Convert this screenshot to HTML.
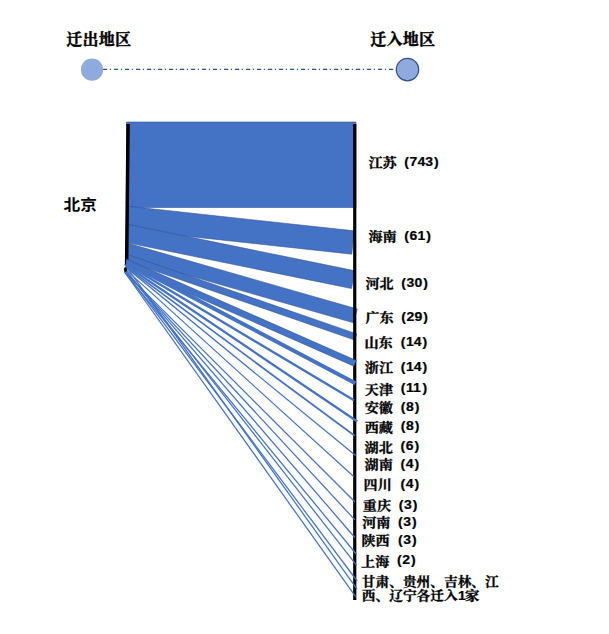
<!DOCTYPE html>
<html lang="zh"><head><meta charset="utf-8"><title>迁出地区 迁入地区</title>
<style>
html,body{margin:0;padding:0;background:#fff;}
body{width:609px;height:634px;overflow:hidden;font-family:"Liberation Sans",sans-serif;}
svg{display:block}
svg text{font-family:"Liberation Sans",sans-serif;font-weight:bold;font-size:12.4px;fill:#000;stroke:#000;stroke-width:0.2px}
svg text.cj{font-family:"Liberation Serif","Noto Serif CJK SC",serif;font-weight:bold;font-size:13.01px;stroke-width:0.3px}
svg text.cj2{font-family:"Liberation Serif","Noto Serif CJK SC",serif;font-weight:bold;font-size:12.74px;stroke-width:0.3px}
svg text.lg{font-family:"Liberation Serif","Noto Serif CJK SC",serif;font-weight:bold;font-size:16px;stroke-width:0.4px;letter-spacing:0.25px}
svg text.cn{font-family:"Liberation Sans","Noto Sans CJK SC",sans-serif;font-weight:bold;font-size:15.23px;stroke:none}
</style></head><body>
<svg width="609" height="634" viewBox="0 0 609 634" role="img" aria-label="北京 迁出地区 迁入地区 迁移流向图">
<desc>迁出地区：北京。迁入地区：江苏 (743)、海南 (61)、河北 (30)、广东 (29)、山东 (14)、浙江 (14)、天津 (11)、安徽 (8)、西藏 (8)、湖北 (6)、湖南 (4)、四川 (4)、重庆 (3)、河南 (3)、陕西 (3)、上海 (2)、甘肃、贵州、吉林、江西、辽宁各迁入1家</desc>
<rect width="609" height="634" fill="#fff"/>
<!-- legend -->
<line x1="102.9" y1="69.4" x2="393.2" y2="69.4" stroke="#2F528F" stroke-width="1.15" stroke-dasharray="4.3 2.6 1.2 2.9"/>
<circle cx="92" cy="69.7" r="11.1" fill="#8FAADC"/>
<circle cx="407.5" cy="69.6" r="11.2" fill="#8FAADC" stroke="#2F528F" stroke-width="1.2"/>
<!-- flows -->
<g fill="#4472C4" stroke="#2F528F" stroke-width="0.55" stroke-linejoin="miter">
<polygon points="126.5,122 356,122 356,207.5 126.5,207.5"/>
<polygon points="126.5,206.08 354.30,230.85 351.76,254.17 126.5,229.68"/>
<polygon points="126.5,224.09 355.10,270.80 351.47,288.56 126.5,242.59"/>
<polygon points="126.5,242.83 357.30,309.00 353.35,322.77 126.5,257.73"/>
<polygon points="126.5,254.21 356.80,333.90 354.67,340.06 126.5,261.11"/>
</g>
<!-- bars -->
<line x1="128.1" y1="124" x2="126.6" y2="265.3" stroke="#000" stroke-width="3.5"/>
<line x1="354.75" y1="124" x2="354.75" y2="600.0" stroke="#000" stroke-width="3.2"/>
<g fill="#4472C4" stroke="#2F528F" stroke-width="0.55" stroke-linejoin="miter">
<polygon points="126.5,259.12 356.31,360.50 353.79,366.20 126.5,265.92"/>
<polygon points="126.5,260.24 356.28,381.39 354.42,384.91 126.5,264.74" stroke="none"/>
<polygon points="126.5,263.05 354.62,399.27 353.38,401.33 126.5,265.85" stroke="none"/>
<polygon points="126.5,264.40 357.95,420.54 356.65,422.46 126.5,267.20" stroke="none"/>
<polygon points="126.5,266.15 355.20,435.02 354.20,436.38 126.5,268.25" stroke="none"/>
<polygon points="126.5,267.05 355.99,454.92 355.21,455.88 126.5,268.65" stroke="none"/>
<polygon points="126.5,269.47 354.10,476.06 353.30,476.94 126.5,271.07" stroke="none"/>
</g>
<g stroke="#4472C4" stroke-width="1.25">
<line x1="124.7" y1="271.86" x2="354.8" y2="501.8"/>
<line x1="124.7" y1="271.10" x2="354.8" y2="519.8"/>
<line x1="124.7" y1="270.37" x2="354.8" y2="537.5"/>
<line x1="124.7" y1="272.32" x2="356.6" y2="554.5"/>
<line x1="124.7" y1="268.38" x2="356.6" y2="565.3"/>
<line x1="124.7" y1="271.16" x2="357.2" y2="581.0"/>
<line x1="124.7" y1="264.42" x2="357.2" y2="589.3"/>
<line x1="124.7" y1="272.26" x2="355.6" y2="596.6"/>
</g>
<ellipse cx="125.5" cy="269.5" rx="1.6" ry="2.6" fill="#111"/>
<!-- text -->
<text class="cj" transform="translate(368.46,167.48) scale(1.0846,1)">江苏</text>
<text class="cj" transform="translate(368.45,240.64) scale(1.0846,1)">海南</text>
<text class="cj" transform="translate(365.43,287.96) scale(1.0846,1)">河北</text>
<text class="cj" transform="translate(365.46,322.37) scale(1.0846,1)">广东</text>
<text class="cj" transform="translate(364.42,347.12) scale(1.0846,1)">山东</text>
<text class="cj" transform="translate(364.86,371.95) scale(1.0846,1)">浙江</text>
<text class="cj" transform="translate(364.79,393.51) scale(1.0846,1)">天津</text>
<text class="cj" transform="translate(364.75,412.44) scale(1.0846,1)">安徽</text>
<text class="cj" transform="translate(364.75,431.74) scale(1.0846,1)">西藏</text>
<text class="cj" transform="translate(364.60,451.56) scale(1.0846,1)">湖北</text>
<text class="cj" transform="translate(364.60,468.84) scale(1.0846,1)">湖南</text>
<text class="cj" transform="translate(363.60,489.17) scale(1.0846,1)">四川</text>
<text class="cj" transform="translate(362.85,509.73) scale(1.0846,1)">重庆</text>
<text class="cj" transform="translate(362.13,527.34) scale(1.0846,1)">河南</text>
<text class="cj" transform="translate(361.48,545.41) scale(1.0846,1)">陕西</text>
<text class="cj" transform="translate(361.08,565.53) scale(1.0846,1)">上海</text>
<text class="cj2" transform="translate(361.82,585.78) scale(1.0754,1)">甘肃、贵州、吉林、江</text>
<text class="cj2" transform="translate(361.86,600.42) scale(1.0754,1)">西、辽宁各迁入</text>
<text class="cj2" transform="translate(464.76,600.38) scale(1.1617,1)">家</text>
<text class="lg" x="66.37" y="45.06">迁出地区</text>
<text class="lg" x="370.17" y="45.13">迁入地区</text>
<text class="cn" transform="translate(63.47,209.53) scale(1.0959,1)">北京</text>
<text transform="translate(404.30,166.20) scale(1.13,1)">(</text>
<text transform="translate(409.60,166.20) scale(1.13,1)">743</text>
<text transform="translate(433.92,166.20) scale(1.13,1)">)</text>
<text transform="translate(404.30,239.50) scale(1.13,1)">(</text>
<text transform="translate(409.60,239.50) scale(1.13,1)">61</text>
<text transform="translate(426.13,239.50) scale(1.13,1)">)</text>
<text transform="translate(401.30,287.00) scale(1.13,1)">(</text>
<text transform="translate(406.60,287.00) scale(1.13,1)">30</text>
<text transform="translate(423.13,287.00) scale(1.13,1)">)</text>
<text transform="translate(401.30,321.10) scale(1.13,1)">(</text>
<text transform="translate(406.60,321.10) scale(1.13,1)">29</text>
<text transform="translate(423.13,321.10) scale(1.13,1)">)</text>
<text transform="translate(400.70,345.80) scale(1.13,1)">(</text>
<text transform="translate(406.00,345.80) scale(1.13,1)">14</text>
<text transform="translate(422.53,345.80) scale(1.13,1)">)</text>
<text transform="translate(400.70,370.60) scale(1.13,1)">(</text>
<text transform="translate(406.00,370.60) scale(1.13,1)">14</text>
<text transform="translate(422.53,370.60) scale(1.13,1)">)</text>
<text transform="translate(400.70,392.20) scale(1.13,1)">(</text>
<text transform="translate(406.00,392.20) scale(1.13,1)">11</text>
<text transform="translate(422.53,392.20) scale(1.13,1)">)</text>
<text transform="translate(400.70,411.10) scale(1.13,1)">(</text>
<text transform="translate(406.00,411.10) scale(1.13,1)">8</text>
<text transform="translate(414.74,411.10) scale(1.13,1)">)</text>
<text transform="translate(400.70,430.40) scale(1.13,1)">(</text>
<text transform="translate(406.00,430.40) scale(1.13,1)">8</text>
<text transform="translate(414.74,430.40) scale(1.13,1)">)</text>
<text transform="translate(400.40,450.40) scale(1.13,1)">(</text>
<text transform="translate(405.70,450.40) scale(1.13,1)">6</text>
<text transform="translate(414.44,450.40) scale(1.13,1)">)</text>
<text transform="translate(400.40,467.70) scale(1.13,1)">(</text>
<text transform="translate(405.70,467.70) scale(1.13,1)">4</text>
<text transform="translate(414.44,467.70) scale(1.13,1)">)</text>
<text transform="translate(400.40,488.10) scale(1.13,1)">(</text>
<text transform="translate(405.70,488.10) scale(1.13,1)">4</text>
<text transform="translate(414.44,488.10) scale(1.13,1)">)</text>
<text transform="translate(398.80,508.60) scale(1.13,1)">(</text>
<text transform="translate(404.10,508.60) scale(1.13,1)">3</text>
<text transform="translate(412.84,508.60) scale(1.13,1)">)</text>
<text transform="translate(398.00,526.10) scale(1.13,1)">(</text>
<text transform="translate(403.30,526.10) scale(1.13,1)">3</text>
<text transform="translate(412.04,526.10) scale(1.13,1)">)</text>
<text transform="translate(398.00,544.20) scale(1.13,1)">(</text>
<text transform="translate(403.30,544.20) scale(1.13,1)">3</text>
<text transform="translate(412.04,544.20) scale(1.13,1)">)</text>
<text transform="translate(397.00,564.40) scale(1.13,1)">(</text>
<text transform="translate(402.30,564.40) scale(1.13,1)">2</text>
<text transform="translate(411.04,564.40) scale(1.13,1)">)</text>
<text transform="translate(457.96,600.30) scale(1.13,1)">1</text>
</svg>
</body></html>
